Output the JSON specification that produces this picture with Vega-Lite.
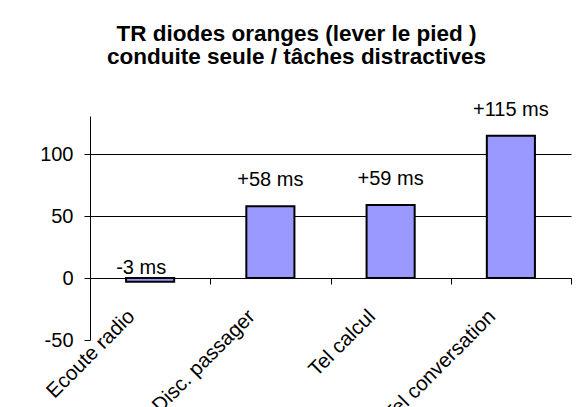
{
  "$schema": "https://vega.github.io/schema/vega-lite/v6.json",
  "width": 481,
  "height": 224,
  "autosize": {"type": "none"},
  "padding": {"left": 90, "top": 116, "right": 7, "bottom": 67},
  "background": "white",
  "config": {"view": {"stroke": null}, "font": "Liberation Sans"},
  "title": {
    "text": ["TR diodes oranges (lever le pied )", "conduite seule / tâches distractives"],
    "font": "Liberation Sans",
    "fontSize": 22.5,
    "fontWeight": "bold",
    "color": "black",
    "lineHeight": 23,
    "anchor": "middle",
    "frame": "group",
    "dx": -34,
    "offset": 31
  },
  "data": {
    "values": [
      {"task": "Ecoute radio", "value": -3, "label": "-3 ms"},
      {"task": "Disc. passager", "value": 58, "label": "+58 ms"},
      {"task": "Tel calcul", "value": 59, "label": "+59 ms"},
      {"task": "Tel conversation", "value": 115, "label": "+115 ms"}
    ]
  },
  "encoding": {
    "x": {
      "field": "task",
      "type": "nominal",
      "sort": null,
      "scale": {"paddingInner": 0, "paddingOuter": 0},
      "axis": {
        "title": null,
        "orient": "bottom",
        "offset": -62,
        "tickBand": "extent",
        "domainColor": "black",
        "domainWidth": 1,
        "tickColor": "black",
        "tickWidth": 1,
        "tickSize": 6,
        "labelAngle": -45,
        "labelAlign": "right",
        "labelBaseline": "middle",
        "labelFont": "Liberation Sans",
        "labelFontSize": 20.5,
        "labelColor": "black",
        "labelPadding": 29,
        "labelOffset": -19,
        "labelOverlap": false,
        "labelBound": false,
        "labelFlush": false,
        "grid": false
      }
    },
    "y": {
      "field": "value",
      "type": "quantitative",
      "scale": {"domain": [-50, 131], "nice": false, "zero": false},
      "axis": {
        "title": null,
        "values": [-50, 0, 50, 100],
        "labelExpr": "'' + datum.value",
        "domainColor": "black",
        "domainWidth": 1,
        "tickColor": "black",
        "tickWidth": 1,
        "tickSize": 6,
        "labelFont": "Liberation Sans",
        "labelFontSize": 20,
        "labelColor": "black",
        "labelPadding": 11,
        "grid": true,
        "gridColor": "black",
        "gridWidth": 1,
        "gridOpacity": {"condition": {"test": "datum.value < 0", "value": 0}, "value": 1}
      }
    }
  },
  "layer": [
    {
      "mark": {"type": "bar", "width": {"band": 0.4}, "fill": "#9999FF", "stroke": "black", "strokeWidth": 2}
    },
    {
      "transform": [{"filter": "datum.value >= 0"}],
      "mark": {"type": "text", "font": "Liberation Sans", "fontSize": 20, "color": "black", "baseline": "alphabetic", "dy": -20},
      "encoding": {"text": {"field": "label"}}
    },
    {
      "transform": [{"filter": "datum.value < 0"}],
      "mark": {"type": "text", "font": "Liberation Sans", "fontSize": 20, "color": "black", "baseline": "alphabetic", "dy": -8, "dx": -9},
      "encoding": {"text": {"field": "label"}}
    }
  ]
}
